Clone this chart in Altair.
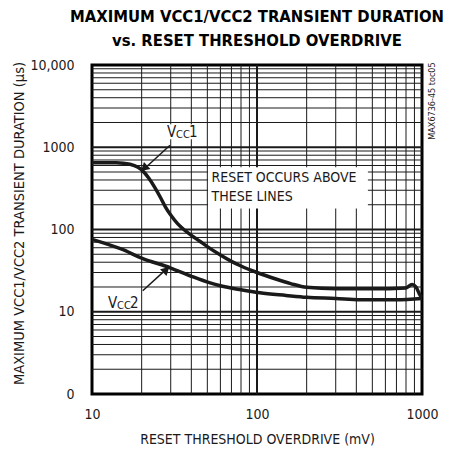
import altair as alt
import pandas as pd

# ---- data ----
vcc1_x = [10, 14, 17, 19, 20, 22, 24, 26, 28, 30, 33, 36, 40, 45, 50, 60, 70, 80, 100, 130, 160, 200,
          300, 500, 800, 870, 920, 980, 1000]
vcc1_y = [650, 648, 620, 570, 530, 425, 325, 245, 185, 150, 118, 100, 85, 72, 62, 49, 41, 36, 30, 25, 22, 19.8,
          19, 19, 19.5, 21.5, 20, 15.5, 15]
vcc2_x = [10, 15, 20, 30, 40, 52, 60, 80, 104, 150, 200, 300, 420, 700, 1000]
vcc2_y = [76, 58, 45, 34, 27, 22.4, 20.7, 18.5, 17, 15.8, 15, 14.5, 14, 14, 14.5]

x_minor = [20, 30, 40, 50, 60, 70, 80, 90, 200, 300, 400, 500, 600, 700, 800, 900]
x_major = [100]
y_minor = [2, 3, 4, 5, 6, 7, 8, 9, 20, 30, 40, 50, 60, 70, 80, 90,
           200, 300, 400, 500, 600, 700, 800, 900, 2000, 3000, 4000, 5000, 6000, 7000, 8000, 9000]
y_major = [10, 100, 1000]
x_ticks = [10, 100, 1000]
y_ticks = [1, 10, 100, 1000, 10000]

# annotation boxes (data coordinates)
box_x = [27.5, 50.5, 11.9]
box_x2 = [42.0, 470.0, 18.6]
box_y = [1250, 570, 11.0]
box_y2 = [1900, 180, 15.2]

# "V" + subscript "CC" + digit labels
label_v = ["V", "V"]
label_sub = ["CC", "CC"]
label_num = ["1", "2"]
label_x = [28.5, 12.5]
label_y = [1525, 12.9]

note_lines = ["RESET OCCURS ABOVE", "THESE LINES"]
note_x = [53.0, 53.0]
note_y = [419, 245]

arrow_x = [29.7, 20.3, 20.3, 28.9]
arrow_y = [1057, 525, 18.0, 34.4]
arrow_id = ["a1", "a1", "a2", "a2"]
head_x = [21.0, 27.8]
head_y = [570, 31.5]
head_angle = [227, 47]

FONT = "Liberation Sans Narrow, DejaVu Sans Condensed, Roboto Condensed, Liberation Sans, sans-serif"
INK = "#1a1a1a"

xs = alt.Scale(type="log", domain=[10, 1000], nice=False)
ys = alt.Scale(type="log", domain=[1, 10000], nice=False)

curves = pd.DataFrame({
    "x": vcc1_x + vcc2_x,
    "y": vcc1_y + vcc2_y,
    "s": ["VCC1"] * len(vcc1_x) + ["VCC2"] * len(vcc2_x),
})

base_x = alt.X("x:Q", scale=xs,
               axis=alt.Axis(values=x_ticks, grid=False, ticks=False, domain=False,
                             labelFont=FONT, labelFontSize=14, labelColor=INK, labelPadding=13,
                             labelFlush=False, format="d",
                             title="RESET THRESHOLD OVERDRIVE (mV)", titleFont=FONT,
                             titleFontSize=14, titleFontWeight="normal", titleColor=INK,
                             titlePadding=11))
base_y = alt.Y("y:Q", scale=ys,
               axis=alt.Axis(values=y_ticks, grid=False, ticks=False, domain=False,
                             labelFont=FONT, labelFontSize=14, labelColor=INK, labelPadding=18,
                             labelFlush=False, format="d",
                             labelExpr="datum.value == 1 ? '0' : datum.value == 10000 ? '10,000' : datum.label",
                             title="MAXIMUM VCC1/VCC2 TRANSIENT DURATION (µs)", titleFont=FONT,
                             titleFontSize=14.5, titleFontWeight="normal", titleColor=INK,
                             titleX=-73, titleY=158, titleAngle=-90, titleBaseline="middle",
                             titleAlign="center"))

vminor = alt.Chart(pd.DataFrame({"x": x_minor})).mark_rule(color=INK, strokeWidth=1).encode(
    x=alt.X("x:Q", scale=xs))
vmajor = alt.Chart(pd.DataFrame({"x": x_major})).mark_rule(color=INK, strokeWidth=2).encode(
    x=alt.X("x:Q", scale=xs))
hminor = alt.Chart(pd.DataFrame({"y": y_minor})).mark_rule(color=INK, strokeWidth=1).encode(
    y=alt.Y("y:Q", scale=ys))
hmajor = alt.Chart(pd.DataFrame({"y": y_major})).mark_rule(color=INK, strokeWidth=2).encode(
    y=alt.Y("y:Q", scale=ys))

lines = alt.Chart(curves).mark_line(color=INK, strokeWidth=3.5, interpolate="monotone").encode(
    x=base_x, y=base_y, detail="s:N")

boxes = alt.Chart(pd.DataFrame({"x": box_x, "x2": box_x2, "y": box_y, "y2": box_y2})).mark_rect(
    color="white").encode(x=alt.X("x:Q", scale=xs), x2="x2:Q", y=alt.Y("y:Q", scale=ys), y2="y2:Q")

lab_df = pd.DataFrame({"x": label_x, "y": label_y, "v": label_v, "c": label_sub, "n": label_num})
lab_v = alt.Chart(lab_df).mark_text(font=FONT, fontSize=15, color=INK, align="left", baseline="middle").encode(
    x=alt.X("x:Q", scale=xs), y=alt.Y("y:Q", scale=ys), text="v:N")
lab_c = alt.Chart(lab_df).mark_text(font=FONT, fontSize=11, color=INK, align="left", baseline="middle",
                                    dx=9, dy=3).encode(
    x=alt.X("x:Q", scale=xs), y=alt.Y("y:Q", scale=ys), text="c:N")
lab_n = alt.Chart(lab_df).mark_text(font=FONT, fontSize=15, color=INK, align="left", baseline="middle",
                                    dx=22).encode(
    x=alt.X("x:Q", scale=xs), y=alt.Y("y:Q", scale=ys), text="n:N")

note = alt.Chart(pd.DataFrame({"x": note_x, "y": note_y, "t": note_lines})).mark_text(
    font=FONT, fontSize=14, color=INK, align="left", baseline="middle").encode(
    x=alt.X("x:Q", scale=xs), y=alt.Y("y:Q", scale=ys), text="t:N")

arrows = alt.Chart(pd.DataFrame({"x": arrow_x, "y": arrow_y, "id": arrow_id})).mark_line(
    color=INK, strokeWidth=1.5).encode(x=alt.X("x:Q", scale=xs), y=alt.Y("y:Q", scale=ys), detail="id:N")

heads = alt.Chart(pd.DataFrame({"x": head_x, "y": head_y, "a": head_angle})).mark_point(
    shape="triangle", filled=True, color=INK, opacity=1, size=90).encode(
    x=alt.X("x:Q", scale=xs), y=alt.Y("y:Q", scale=ys), angle=alt.Angle("a:Q", scale=None))

side = alt.Chart(pd.DataFrame({"t": ["MAX6736-45 toc05"]})).mark_text(
    font=FONT, fontSize=9, color=INK, angle=270, align="center", baseline="middle").encode(
    text="t:N", x=alt.value(340), y=alt.value(36))

chart = alt.layer(vminor, vmajor, hminor, hmajor, boxes, lines, arrows, heads,
                  lab_v, lab_c, lab_n, note, side).properties(
    width=330, height=329,
    title=alt.TitleParams(text=["MAXIMUM VCC1/VCC2 TRANSIENT DURATION", "vs. RESET THRESHOLD OVERDRIVE"],
                          font=FONT, fontSize=16.5, fontWeight="bold", color="black",
                          anchor="middle", lineHeight=24, offset=9),
    autosize=alt.AutoSizeParams(type="none"),
    padding={"left": 84, "top": 57, "right": 21, "bottom": 66},
).configure_view(stroke="black", strokeWidth=3)

chart.save("out.html", embed_options={"renderer": "svg", "actions": False})
